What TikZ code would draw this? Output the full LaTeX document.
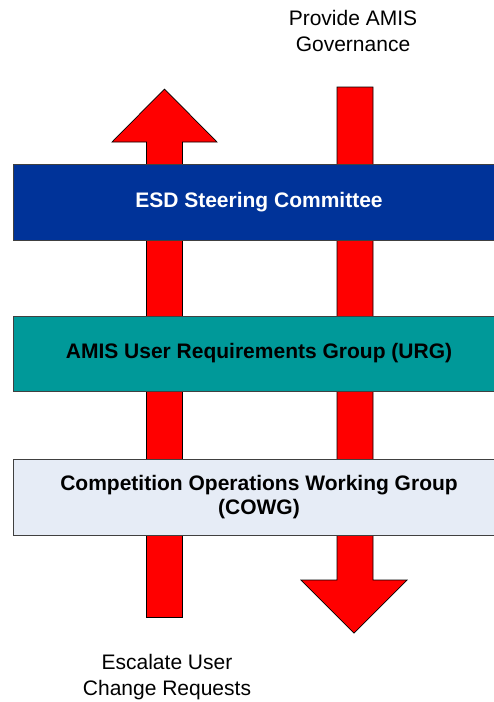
\documentclass[tikz,border=0pt]{standalone}
\usepackage{fontspec}
\setmainfont{Liberation Sans}
\definecolor{esdblue}{RGB}{0,51,153}
\definecolor{urgteal}{RGB}{0,153,153}
\definecolor{cowgpale}{RGB}{230,236,246}
\tikzset{
    band/.style={draw=black!75,line width=0.8pt,minimum width=492,inner sep=0pt,
        align=center,font=\fontsize{21}{23.5}\selectfont\bfseries},
    flow/.style={fill=red,draw=black,line width=0.7pt,line join=miter},
    caption/.style={align=center,font=\fontsize{21}{25.5}\selectfont}
}
\begin{document}
\begin{tikzpicture}[x=1pt,y=-1pt]
        \useasboundingbox (0,0) rectangle (494,702);
        \clip (0,0) rectangle (494,702);

        % upward arrow (requests go up)
        \draw[flow] (146.5,617.5) -- (146.5,142) -- (112,142) -- (164.5,89)
            -- (217,142) -- (182.5,142) -- (182.5,617.5) -- cycle;
        % downward arrow (governance comes down)
        \draw[flow] (337,87) -- (373,87) -- (373,580) -- (407,580)
            -- (354,633) -- (301,580) -- (337,580) -- cycle;

        % the three bodies, across both arrows
        \draw
            (259,202) node(esd)[band,fill=esdblue,text=white,minimum height=76]
                {ESD Steering Committee}
            (259,353.5) node(urg)[band,fill=urgteal,minimum height=75]
                {AMIS User Requirements Group (URG)}
            (259,497) node(cowg)[band,fill=cowgpale,minimum height=76]
                {Competition Operations Working Group\\(COWG)};

        % labels at the arrow ends
        \draw
            (353,31) node(govern)[caption] {Provide AMIS\\Governance}
            (167,677) node(escalate)[caption] {Escalate User\\Change Requests};
    \end{tikzpicture}
\end{document}
